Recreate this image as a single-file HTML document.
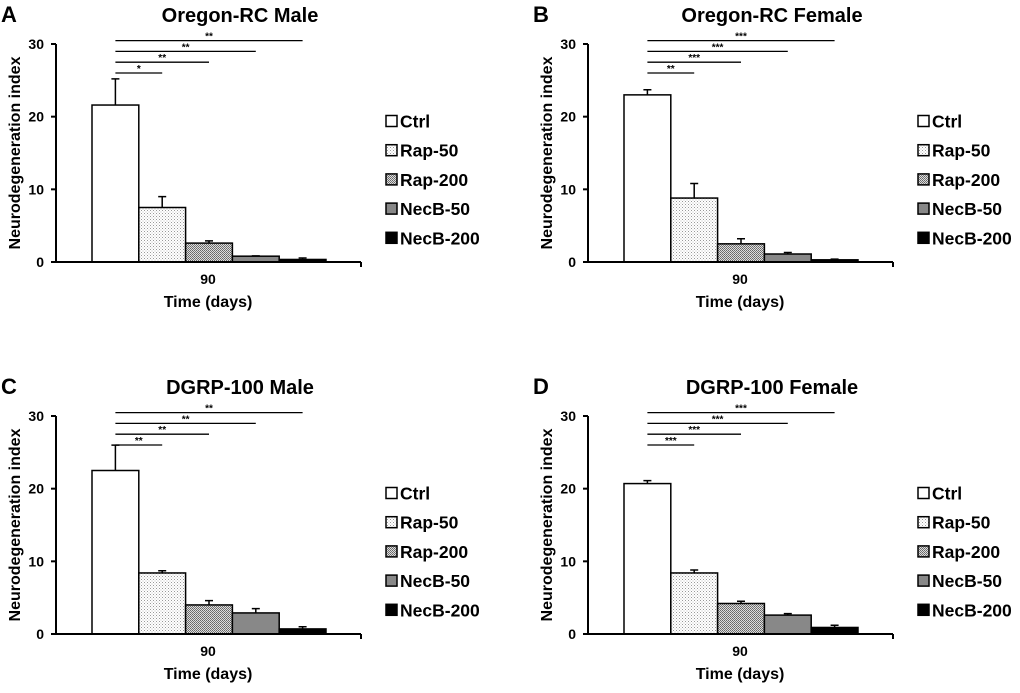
<!DOCTYPE html>
<html><head><meta charset="utf-8">
<style>
html,body{margin:0;padding:0;background:#fff;}
svg{display:block;font-family:"Liberation Sans",Arial,sans-serif;font-weight:bold;}
</style></head>
<body>
<svg id="fig" width="1020" height="693" viewBox="0 0 1020 693">
<defs>
<pattern id="p-rap50" width="3" height="3" patternUnits="userSpaceOnUse"><rect width="3" height="3" fill="#fff"/><rect x="0" y="0" width="1" height="1" fill="#999"/><rect x="1.5" y="1.5" width="1" height="1" fill="#bbb"/></pattern>
<pattern id="p-rap200" width="2" height="2" patternUnits="userSpaceOnUse"><rect width="2" height="2" fill="#ddd"/><rect x="0" y="0" width="1" height="1" fill="#666"/><rect x="1" y="1" width="1" height="1" fill="#777"/></pattern>
</defs>
</svg>
<script>
const groups = ["Ctrl","Rap-50","Rap-200","NecB-50","NecB-200"];
const yTicks = [0,10,20,30];
const panelTitles = ["Oregon-RC Male","Oregon-RC Female","DGRP-100 Male","DGRP-100 Female"];
const panelLetters = ["A","B","C","D"];
const meansA = [21.6,7.5,2.6,0.8,0.35];
const errsA  = [3.6,1.5,0.3,0.05,0.2];
const meansB = [23.0,8.8,2.5,1.1,0.3];
const errsB  = [0.7,2.0,0.7,0.2,0.1];
const meansC = [22.5,8.4,4.0,2.9,0.7];
const errsC  = [3.5,0.3,0.6,0.6,0.3];
const meansD = [20.7,8.4,4.2,2.6,0.9];
const errsD  = [0.4,0.4,0.3,0.2,0.3];
const sigA = ["*","**","**","**"];
const sigB = ["**","***","***","***"];
const sigC = ["**","**","**","**"];
const sigD = ["***","***","***","***"];

const fills = ["#fff","url(#p-rap50)","url(#p-rap200)","#888","#000"];
const svg = document.getElementById('fig');
const NS = "http://www.w3.org/2000/svg";
function mk(tag, attrs, parent, text){
  const e = document.createElementNS(NS, tag);
  for (const k in attrs) e.setAttribute(k, attrs[k]);
  if (text !== undefined) e.textContent = text;
  parent.appendChild(e);
  return e;
}
const panels = [
  {dx:0, dy:0, m:meansA, e:errsA, s:sigA},
  {dx:532, dy:0, m:meansB, e:errsB, s:sigB},
  {dx:0, dy:372, m:meansC, e:errsC, s:sigC},
  {dx:532, dy:372, m:meansD, e:errsD, s:sigD}
];
panels.forEach((p, pi) => {
  const g = mk('g', {transform:`translate(${p.dx},${p.dy})`}, svg);
  
  
  const y = v => 262 - v * (218/30);
  const barW = 46.8, x0 = 92;
  const bx = i => x0 + i * barW;
  const l = mk('text', {x:1, y:22, 'font-size':22}, g, panelLetters[pi]);
  
  
  const t = mk('text', {x:240, y:22, 'font-size':20, 'text-anchor':'middle'}, g, panelTitles[pi]);
  
  
  p.m.forEach((v, i) => {
    const r = mk('rect', {x:bx(i), y:y(v), width:barW, height:262 - y(v), fill:fills[i], stroke:'#000', 'stroke-width':1.5}, g);
    
    
    const cx = bx(i) + barW/2;
    const eb = mk('path', {d:`M${cx},${y(v)}V${y(v + p.e[i])}M${cx-4},${y(v + p.e[i])}H${cx+4}`, stroke:'#000', 'stroke-width':1.5, fill:'none'}, g);
    
    
  });
  const ax = mk('path', {d:'M56,44V262M56,262H361M361,262V267M51,262H56', stroke:'#000', 'stroke-width':2, fill:'none'}, g);
  
  
  yTicks.forEach(v => {
    const tk = mk('line', {x1:51, x2:56, y1:y(v), y2:y(v), stroke:'#000', 'stroke-width':2}, g);
    
    
    const tl = mk('text', {x:44, y:y(v) + 5, 'font-size':14, 'text-anchor':'end'}, g, String(v));
    
    
  });
  const xl = mk('text', {x:208, y:284, 'font-size':14, 'text-anchor':'middle'}, g, '90');
  
  
  const xt = mk('text', {x:208, y:307, 'font-size':16, 'text-anchor':'middle'}, g, 'Time (days)');
  
  
  const yt = mk('text', {x:0, y:0, 'font-size':16, 'text-anchor':'middle', transform:'translate(20,153) rotate(-90)'}, g, 'Neurodegeneration index');
  
  
  const startX = bx(0) + barW/2;
  p.s.forEach((s, k) => {
    const ly = 73 - k * 10.8;
    const endX = bx(k + 1) + barW/2;
    const sl = mk('line', {x1:startX, x2:endX, y1:ly, y2:ly, stroke:'#000', 'stroke-width':1.3}, g);
    
    
    const st = mk('text', {x:(startX + endX)/2, y:ly - 1, 'font-size':10, 'text-anchor':'middle'}, g, s);
    
    
  });
  groups.forEach((name, i) => {
    const ly = 121 + i * 29.2;
    const lg = mk('g', {}, g);
    
    
    mk('rect', {x:386, y:ly - 5.5, width:11, height:11, fill:fills[i], stroke:'#000', 'stroke-width':1.5}, lg);
    mk('text', {x:400, y:ly + 6.5, 'font-size':17.5}, lg, name);
  });
});
</script>
</body></html>
